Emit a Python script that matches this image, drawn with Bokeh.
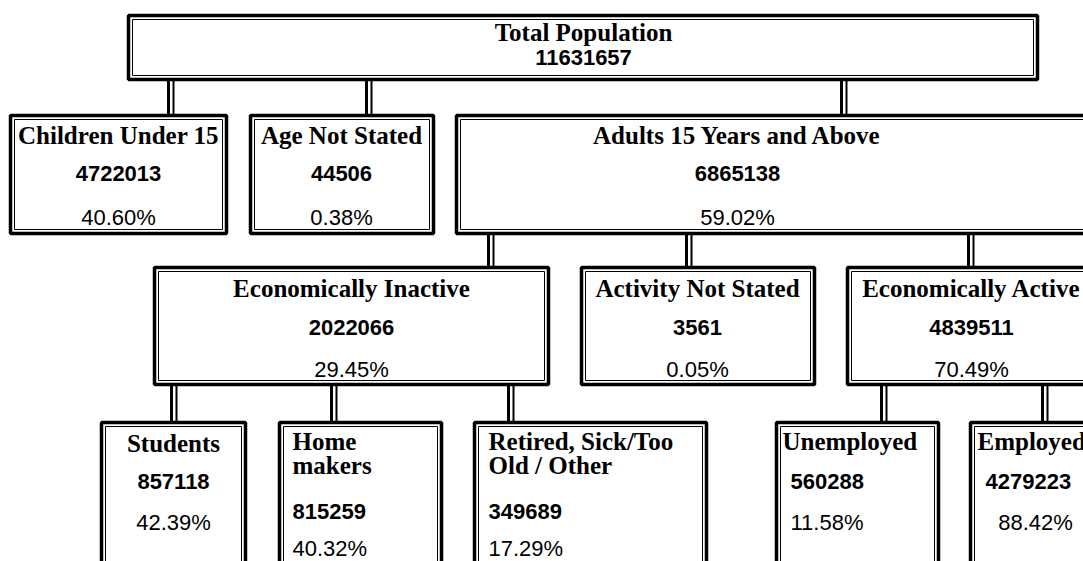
from bokeh.plotting import figure
from bokeh.models import Range1d, ColumnDataSource
from bokeh.core.properties import value
from bokeh.embed import file_html
from bokeh.resources import INLINE

# ---------------- data ----------------
names = ["Total Population", "Children Under 15", "Age Not Stated", "Adults 15 Years and Above",
         "Economically Inactive", "Activity Not Stated", "Economically Active",
         "Students", "Home\nmakers", "Retired, Sick/Too\nOld / Other", "Unemployed", "Employed"]
counts = [11631657, 4722013, 44506, 6865138, 2022066, 3561, 4839511,
          857118, 815259, 349689, 560288, 4279223]
percents = [None, 40.60, 0.38, 59.02, 29.45, 0.05, 70.49,
            42.39, 40.32, 17.29, 11.58, 88.42]
parents = [None, 0, 0, 0, 3, 3, 3, 4, 4, 4, 6, 6]

# ---------------- layout (pixels of the 1083x561 picture) ----------------
box_x0 = [128, 10, 250, 456, 154, 581, 847, 101, 279, 474, 776, 970]
box_x1 = [1037, 226, 433, 1110, 548, 814, 1110, 245, 441, 706, 938, 1110]
box_y0 = [15, 115, 115, 115, 267, 267, 267, 422, 422, 422, 422, 422]
box_y1 = [79, 233, 233, 233, 384, 384, 384, 600, 600, 600, 600, 600]
conn_x = [None, 170, 368, 843, 490, 688, 970, 173, 333, 510, 883, 1044]
text_x = [583, 118, 341, 737, 351, 697, 971, 173, 292, 488, 782, 977]
text_align = ["center"] * 8 + ["left", "left", "left", "left"]
title_y = [32, 135, 135, 135, 288, 288, 288, 443, 441, 441, 441, 441]
num_y = [57, 173, 173, 173, 327, 327, 327, 481, 511, 511, 481, 481]
pct_y = [None, 217, 217, 217, 369, 369, 369, 522, 548, 548, 522, 522]
num_x = [583, 118, 341, 737, 351, 697, 971, 173, 292, 488, 790, 985]
pct_x = [None, 118, 341, 737, 351, 697, 971, 173, 292, 488, 790, 1035]
pct_align = [None] + ["center"] * 7 + ["left", "left", "left", "center"]
LINE_H = 24

W, H = 1083, 561
p = figure(width=W, height=H, output_backend="svg", toolbar_location=None,
           x_range=Range1d(0, W), y_range=Range1d(H, 0),
           min_border=0, outline_line_color=None)
p.axis.visible = False
p.grid.visible = False
p.background_fill_color = "white"

# boxes: thick outer + thin inner
p.quad(left=box_x0, right=box_x1, top=box_y0, bottom=box_y1,
       fill_color=None, line_color="black", line_width=3.5)
p.quad(left=[v + 4 for v in box_x0], right=[v - 4 for v in box_x1],
       top=[v + 4 for v in box_y0], bottom=[v - 4 for v in box_y1],
       fill_color=None, line_color="black", line_width=1)

# connectors (double lines)
cx, cy0, cy1 = [], [], []
for i, par in enumerate(parents):
    if par is None:
        continue
    cx.append(conn_x[i]); cy0.append(box_y1[par]); cy1.append(box_y0[i])
p.segment(x0=[c - 2 for c in cx], x1=[c - 2 for c in cx], y0=cy0, y1=cy1,
          line_color="black", line_width=3)
p.segment(x0=[c + 3 for c in cx], x1=[c + 3 for c in cx], y0=cy0, y1=cy1,
          line_color="black", line_width=2)

# titles
tx, ty, tt, ta = [], [], [], []
for i, name in enumerate(names):
    for k, line in enumerate(name.split("\n")):
        tx.append(text_x[i]); ty.append(title_y[i] + k * LINE_H); tt.append(line); ta.append(text_align[i])
p.text(x="x", y="y", text="t", text_align="a",
       source=ColumnDataSource(dict(x=tx, y=ty, t=tt, a=ta)),
       text_font=value("Liberation Serif"), text_font_style="bold",
       text_font_size="25px", text_baseline="middle", text_color="black")

# numbers
p.text(x="x", y="y", text="t", text_align="a",
       source=ColumnDataSource(dict(x=num_x, y=num_y, t=[str(c) for c in counts],
                                    a=["center"] * 8 + ["left"] * 4)),
       text_font=value("Liberation Sans"), text_font_style="bold",
       text_font_size="22px", text_baseline="middle", text_color="black")

# percents
px_, py_, pt_, pa_ = [], [], [], []
for i, v in enumerate(percents):
    if v is None:
        continue
    px_.append(pct_x[i]); py_.append(pct_y[i]); pt_.append(f"{v:.2f}%"); pa_.append(pct_align[i])
p.text(x="x", y="y", text="t", text_align="a",
       source=ColumnDataSource(dict(x=px_, y=py_, t=pt_, a=pa_)),
       text_font=value("Liberation Sans"), text_font_style="normal",
       text_font_size="22px", text_baseline="middle", text_color="black")

open("out.html", "w").write(file_html(p, INLINE))
